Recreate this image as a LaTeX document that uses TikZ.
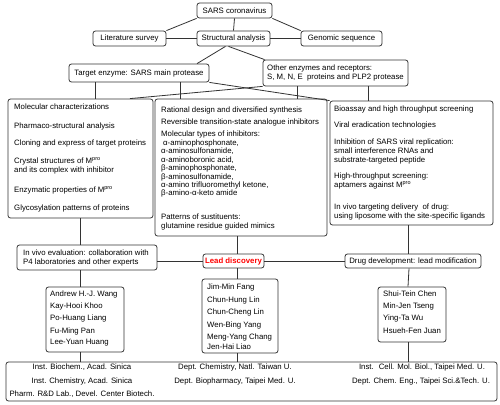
\documentclass[tikz,border=0pt]{standalone}
\usepackage{fontspec}
\setmainfont{Liberation Sans}
\newcommand\ft{\fontsize{7.8}{9}\selectfont}
\newcommand\mpro{M\textsuperscript{pro}}
\begin{document}
\begin{tikzpicture}[x=1pt,y=-1pt,
 box/.style={draw=black!80, fill=white, rounded corners=2.5pt, line width=0.8pt, inner sep=0pt, font=\ft},
 conn/.style={draw=black!80, line width=0.8pt},
 tx/.style={anchor=west, inner sep=0pt, font=\ft},
 ctx/.style={inner sep=0pt, font=\ft}]
\useasboundingbox[fill=white] (0,0) rectangle (500,404);
% boxes
\node[box, minimum width=75pt, minimum height=15pt] (sars) at (234.5,10.5) {SARS coronavirus};
\node[box, minimum width=73pt, minimum height=15pt] (lit) at (129.5,38.5) {Literature survey};
\node[box, minimum width=73pt, minimum height=15pt] (struct) at (233.5,38.5) {Structural analysis};
\node[box, minimum width=81pt, minimum height=15pt] (genom) at (341.5,38.5) {Genomic sequence};
\node[box, minimum width=140pt, minimum height=18pt] (target) at (139,73) {Target enzyme: SARS main protease};
\node[box, minimum width=145pt, minimum height=26pt] (other) at (335.5,73) {};
\node[box, minimum width=145pt, minimum height=119pt] (b1) at (80.5,158.5) {};
\node[box, minimum width=172pt, minimum height=137pt] (b2) at (241,167.5) {};
\node[box, minimum width=163pt, minimum height=124pt] (b3) at (411.5,163) {};
\node[box, minimum width=140pt, minimum height=25pt] (invivo) at (87,257.5) {};
\node[box, minimum width=61pt, minimum height=14pt, text=red, font=\ft\bfseries] (lead) at (233.5,261) {Lead discovery};
\node[box, minimum width=136pt, minimum height=14pt] (drug) at (413,261) {Drug development: lead modification};
\node[box, minimum width=78pt, minimum height=65pt] (n1) at (85,319.5) {};
\node[box, minimum width=76pt, minimum height=74pt] (n2) at (240,316) {};
\node[box, minimum width=68pt, minimum height=55pt] (n3) at (412,314.5) {};
\node[box, minimum width=491pt, minimum height=39pt] (bot) at (251.5,381.5) {};
% connectors
\draw[conn] (sars.south west) -- (lit.north east);
\draw[conn] (sars.south east) -- (genom.north west);
\draw[conn] (sars.south) -- (struct.north);
\draw[conn] (lit.east) -- (struct.west);
\draw[conn] (struct.east) -- (genom.west);
\draw[conn] ([xshift=-8pt]struct.south) -- ([xshift=58pt]target.north);
\draw[conn] ([xshift=-5pt]struct.south) -- ([xshift=2pt]other.north west);
\draw[conn] ([xshift=-44pt]target.south) -- ([xshift=-44pt]target.south |- b1.north);
\draw[conn] ([xshift=41pt]target.south) -- ([xshift=41pt]target.south |- b2.north);
\draw[conn] (target.south east) -- (b3.north west);
\draw[conn] (other.south west) -- ([xshift=49.5pt]b1.north);
\draw[conn] ([xshift=-38.5pt]other.south) -- ([xshift=-38.5pt]other.south |- b2.north);
\draw[conn] ([xshift=32.5pt]other.south) -- ([xshift=32.5pt]other.south |- b3.north);
\draw[conn] (b1.south) -- (b1.south |- invivo.north);
\draw[conn] ([xshift=-4pt]b2.south) -- ([xshift=-4pt]b2.south |- lead.north);
\draw[conn] ([xshift=-5pt]drug.north) -- ([xshift=-5pt]drug.north |- b3.south);
\draw[conn] (lead.west) -- (lead.west -| invivo.east);
\draw[conn] (lead.east) -- (drug.west);
\draw[conn] ([xshift=-7pt]invivo.south) -- ([xshift=-7pt]invivo.south |- n1.north);
\draw[conn] ([xshift=-5pt]n1.south) -- ([xshift=-5pt]n1.south |- bot.north);
\draw[conn] ([xshift=3.5pt]lead.south) -- ([xshift=3.5pt]lead.south |- n2.north);
\draw[conn] ([xshift=-3pt]n2.south) -- ([xshift=-3pt]n2.south |- bot.north);
\draw[conn] ([xshift=-4pt]n3.north) -- ([xshift=-4pt]drug.south);
\draw[conn] ([xshift=-4pt]n3.south) -- ([xshift=-4pt]n3.south |- bot.north);
% other texts
\node[tx] (o1) at (267,68) {Other enzymes and receptors:};
\node[tx] (o2) at (267,77) {S, M, N, E \ proteins and PLP2 protease};
% b1 texts
\node[tx] (a1) at (14,107) {Molecular characterizations};
\node[tx] (a2) at (14,126) {Pharmaco-structural analysis};
\node[tx] (a3) at (14,143) {Cloning and express of target proteins};
\node[tx] (a4) at (14,161) {Crystal structures of \mpro};
\node[tx] (a5) at (14,170) {and its complex with inhibitor};
\node[tx] (a6) at (14,190) {Enzymatic properties of \mpro};
\node[tx] (a7) at (14,208) {Glycosylation patterns of proteins};
% b2 texts
\node[tx] (c1) at (161,110) {Rational design and diversified synthesis};
\node[tx] (c2) at (161,122) {Reversible transition-state analogue inhibitors};
\node[tx] (c3) at (161,134) {Molecular types of inhibitors:};
\node[tx] (c4) at (163,143) {α-aminophosphonate,};
\node[tx] (c5) at (161,151) {α-aminosulfonamide,};
\node[tx] (c6) at (161,160) {α-aminoboronic acid,};
\node[tx] (c7) at (161,168) {β-aminophosphonate,};
\node[tx] (c8) at (161,177) {β-aminosulfonamide,};
\node[tx] (c9) at (161,185) {α-amino trifluoromethyl ketone,};
\node[tx] (c10) at (161,193) {β-amino-α-keto amide};
\node[tx] (c11) at (161,217) {Patterns of sustituents:};
\node[tx] (c12) at (161,226) {glutamine residue guided mimics};
% b3 texts
\node[tx] (d1) at (334,109) {Bioassay and high throughput screening};
\node[tx] (d2) at (334,125) {Viral eradication technologies};
\node[tx] (d3) at (334,142) {Inhibition of SARS viral replication:};
\node[tx] (d4) at (334,151) {small interference RNAs and};
\node[tx] (d5) at (334,160) {substrate-targeted peptide};
\node[tx] (d6) at (334,176) {High-throughput screening:};
\node[tx] (d7) at (334,185) {aptamers against \mpro};
\node[tx] (d8) at (334,207) {In vivo targeting delivery \ of drug:};
\node[tx] (d9) at (334,216) {using liposome with the site-specific ligands};
% in vivo
\node[tx] (e1) at (23,253) {In vivo evaluation: collaboration with};
\node[tx] (e2) at (23,262) {P4 laboratories and other experts};
% names
\node[tx] (f1) at (50,294) {Andrew H.-J. Wang};
\node[tx] (f2) at (50,306) {Kay-Hooi Khoo};
\node[tx] (f3) at (50,318) {Po-Huang Liang};
\node[tx] (f4) at (50,331) {Fu-Ming Pan};
\node[tx] (f5) at (50,343) {Lee-Yuan Huang};
\node[tx] (g1) at (207,287) {Jim-Min Fang};
\node[tx] (g2) at (207,300) {Chun-Hung Lin};
\node[tx] (g3) at (207,312) {Chun-Cheng Lin};
\node[tx] (g4) at (207,325) {Wen-Bing Yang};
\node[tx] (g5) at (207,337) {Meng-Yang Chang};
\node[tx] (g6) at (207,347) {Jen-Hai Liao};
\node[tx] (h1) at (383,294) {Shui-Tein Chen};
\node[tx] (h2) at (383,306) {Min-Jen Tseng};
\node[tx] (h3) at (383,318) {Ying-Ta Wu};
\node[tx] (h4) at (383,331) {Hsueh-Fen Juan};
% bottom
\node[ctx] (i1) at (82,367) {Inst. Biochem., Acad. Sinica};
\node[ctx] (i2) at (82,381) {Inst. Chemistry, Acad. Sinica};
\node[ctx] (i3) at (82,394) {Pharm. R\&D Lab., Devel. Center Biotech.};
\node[ctx] (j1) at (235,367) {Dept. Chemistry, Natl. Taiwan U.};
\node[ctx] (j2) at (235,381) {Dept. Biopharmacy, Taipei Med. U.};
\node[ctx] (k1) at (422,367) {Inst. \ Cell. Mol. Biol., Taipei Med. U.};
\node[ctx] (k2) at (421,381) {Dept. Chem. Eng., Taipei Sci.\&Tech. U.};
\end{tikzpicture}
\end{document}
